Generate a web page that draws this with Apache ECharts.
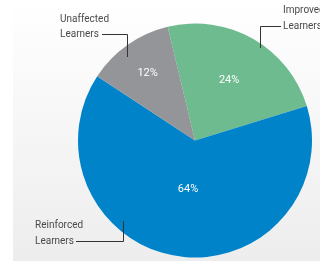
<!DOCTYPE html>
<html>
<head>
<meta charset="utf-8">
<script src="https://cdn.jsdelivr.net/npm/echarts@6/dist/echarts.min.js"></script>
<style>
  html, body { margin: 0; padding: 0; background: #fff; }
  .wrap { position: relative; width: 320px; height: 261px; overflow: hidden; }
  .bg { position: absolute; left: 13px; top: 0; width: 307px; height: 261px;
        background: linear-gradient(#ffffff, #ededed); }
  #chart { position: absolute; left: 0; top: 0; width: 320px; height: 261px; }
</style>
</head>
<body>
<div class="wrap">
  <div class="bg"></div>
  <div id="chart"></div>
</div>
<script>
// data
var categories = ['Improved Learners', 'Reinforced Learners', 'Unaffected Learners'];
var shares = [24, 64, 12];
var colors = ['#6dbb8f', '#0083c9', '#939598'];

// where the percent labels sit, as share of radius
var innerLabelRadius = [0.56, 0.40, 0.67];
// outer label anchors and leader lines
var outerLabels = [
  { x: 283, y: 18.5, line: [[260.5, 48], [260.5, 26.5], [281, 26.5]] },
  { x: 35, y: 233.5, line: [[123.5, 221], [123.5, 241.5], [76, 241.5]] },
  { x: 60, y: 27, line: [[127.5, 57], [127.5, 34.5], [102, 34.5]] }
];

var cx = 195, cy = 140.5, r = 117;

var pieData = categories.map(function (name, i) {
  return { name: name, value: shares[i], itemStyle: { color: colors[i] } };
});

var myChart = echarts.init(document.getElementById('chart'));
myChart.setOption({
  backgroundColor: 'transparent',
  animation: false,
  series: [
    {
      type: 'pie',
      center: [cx, cy],
      radius: r,
      startAngle: 103.5,
      clockwise: true,
      data: pieData,
      label: {
        show: true,
        position: 'inside',
        formatter: '{c}%',
        color: '#fff',
        fontFamily: 'Roboto',
        fontSize: 11
      },
      labelLine: { show: false },
      labelLayout: function (p) {
        var lx = p.labelRect.x + p.labelRect.width / 2;
        var ly = p.labelRect.y + p.labelRect.height / 2;
        var k = innerLabelRadius[p.dataIndex] / 0.5;
        return { x: cx + (lx - cx) * k, y: cy + (ly - cy) * k };
      },
      emphasis: { disabled: true }
    },
    {
      type: 'pie',
      center: [cx, cy],
      radius: r,
      startAngle: 103.5,
      silent: true,
      z: 3,
      data: categories.map(function (name, i) {
        return { name: name, value: shares[i], itemStyle: { color: 'transparent' } };
      }),
      label: {
        show: true,
        position: 'outside',
        formatter: function (p) { return p.name.replace(' ', '\n'); },
        color: '#4a4a4a',
        fontFamily: 'Roboto',
        fontSize: 10,
        lineHeight: 15.5,
        align: 'left',
        overflow: 'none',
        width: 80
      },
      labelLine: {
        show: true,
        lineStyle: { color: '#333', width: 1 }
      },
      labelLayout: function (p) {
        var o = outerLabels[p.dataIndex];
        return {
          x: o.x, y: o.y, align: 'left', verticalAlign: 'middle',
          labelLinePoints: o.line
        };
      },
      emphasis: { disabled: true }
    }
  ]
});
</script>
</body>
</html>
